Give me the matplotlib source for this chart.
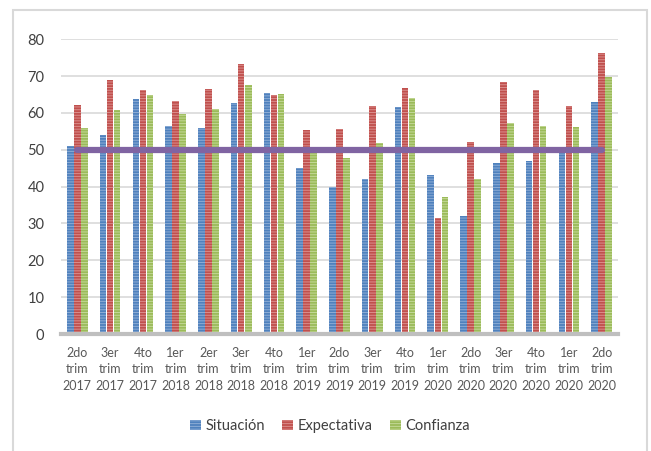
import numpy as np
import matplotlib.pyplot as plt
from matplotlib.patches import Rectangle

# Quarter labels and survey indices
quarters = ["2do\ntrim\n2017", "3er\ntrim\n2017", "4to\ntrim\n2017", "1er\ntrim\n2018",
            "2er\ntrim\n2018", "3er\ntrim\n2018", "4to\ntrim\n2018", "1er\ntrim\n2019",
            "2do\ntrim\n2019", "3er\ntrim\n2019", "4to\ntrim\n2019", "1er\ntrim\n2020",
            "2do\ntrim\n2020", "3er\ntrim\n2020", "4to\ntrim\n2020", "1er\ntrim\n2020",
            "2do\ntrim\n2020"]
situacion = [51.1, 54.1, 63.9, 56.5, 55.8, 62.6, 65.5, 45.0, 39.9, 42.0, 61.5,
             43.2, 31.9, 46.3, 46.9, 50.0, 63.0]
expectativa = [62.1, 69.0, 66.2, 63.3, 66.5, 73.3, 64.8, 55.5, 55.7, 61.8, 66.8,
               31.5, 52.2, 68.3, 66.1, 61.8, 76.4]
confianza = [56.0, 60.9, 64.9, 59.7, 61.1, 67.7, 65.1, 49.5, 47.8, 51.8, 64.1,
             37.2, 42.0, 57.2, 56.5, 56.1, 69.7]
umbral = [50] * len(quarters)

plt.rcParams["font.family"] = ["Lato", "DejaVu Sans"]
plt.rcParams["hatch.linewidth"] = 0.7

fig = plt.figure(figsize=(6.51, 4.51), dpi=100)
ax = fig.add_axes([0.0937, 0.2594, 0.8556, 0.6535])

x = np.arange(len(quarters))
w = 0.2
step = 0.215
series = [
    (situacion, "Situación", "#4F81BD", "#8DADD6"),
    (expectativa, "Expectativa", "#C0504D", "#DB8E8C"),
    (confianza, "Confianza", "#9BBB59", "#C3D897"),
]
for i, (vals, name, col, light) in enumerate(series):
    ax.bar(x + (i - 1) * step, vals, width=w, color=col, edgecolor=light,
           linewidth=0, hatch="------", label=name, zorder=2)

ax.plot(x, umbral, color="#8064A2", linewidth=4.5, zorder=3,
        solid_capstyle="round")

ax.set_xlim(-0.5, len(quarters) - 0.5)
ax.set_ylim(0, 80)
ax.set_yticks(range(0, 81, 10))
ax.set_xticks(x)
ax.set_xticklabels(quarters, fontsize=9, color="#595959", linespacing=1.45)
ax.tick_params(axis="y", labelsize=10.5, colors="#404040", length=0, pad=12)
ax.tick_params(axis="x", length=0, pad=9)
ax.grid(axis="y", color="#D9D9D9", linewidth=1.2, zorder=0)
for s in ["left", "right", "top"]:
    ax.spines[s].set_visible(False)
ax.spines["bottom"].set_color("#BFBFBF")
ax.spines["bottom"].set_linewidth(3)
ax.spines["bottom"].set_zorder(4)

fig.legend(loc="center", bbox_to_anchor=(0.507, 0.055), ncol=3, frameon=False,
           fontsize=10.5, handlelength=0.75, handleheight=0.75, handletextpad=0.3,
           columnspacing=1.2, labelcolor="#404040")

fig.patches.append(Rectangle((0.02, -0.05), 0.974, 1.028, transform=fig.transFigure,
                             fill=False, edgecolor="#D9D9D9", linewidth=1.5))

fig.savefig("out.png", dpi=100)
